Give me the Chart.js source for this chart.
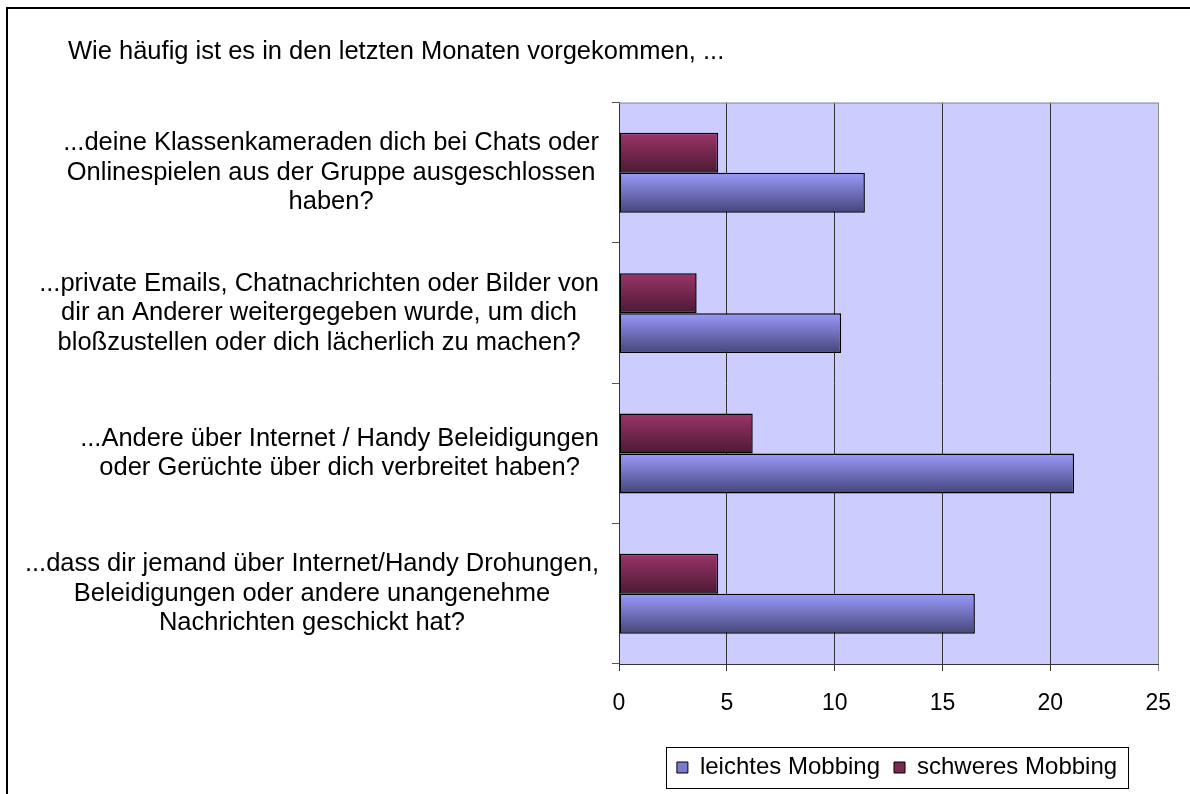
<!DOCTYPE html>
<html>
<head>
<meta charset="utf-8">
<script src="https://cdn.jsdelivr.net/npm/chart.js@4/dist/chart.umd.min.js"></script>
<style>
  html, body { margin: 0; padding: 0; background: #fff; }
</style>
</head>
<body>
<canvas id="chart" width="1190" height="794"></canvas>
<script>
// Daten
const title = "Wie häufig ist es in den letzten Monaten vorgekommen, ...";
const categories = [
  ["...deine Klassenkameraden dich bei Chats oder", "Onlinespielen aus der Gruppe ausgeschlossen", "haben?"],
  ["...private Emails, Chatnachrichten oder Bilder von", "dir an Anderer weitergegeben wurde, um dich", "bloßzustellen oder dich lächerlich zu machen?"],
  ["...Andere über Internet / Handy Beleidigungen", "oder Gerüchte über dich verbreitet haben?"],
  ["...dass dir jemand über Internet/Handy Drohungen,", "Beleidigungen oder andere unangenehme", "Nachrichten geschickt hat?"],
];
const leichtes = [11.4, 10.3, 21.1, 16.5];
const schweres = [4.6, 3.6, 6.2, 4.6];
const xTicks = [0, 5, 10, 15, 20, 25];

const FONT = '"Liberation Sans", Arial, sans-serif';
const CAT_PCT = 0.57;
const LEGEND_BOX = { x: 666, y: 747, w: 462, h: 41 };
const LEGEND_PAD = 14;

Chart.defaults.color = "#000";
Chart.defaults.font.family = FONT;

// vertikaler Verlauf pro Balken, wie im Excel-Diagramm
function barGradient(topColor, bottomColor) {
  return (c) => {
    const chart = c.chart;
    const y = chart.scales.y;
    if (c.type !== "data" || !y || !y.height) return topColor;
    const slot = (y.height / chart.data.labels.length) * CAT_PCT / 2;
    const start = y.getPixelForValue(c.dataIndex) - slot + c.datasetIndex * slot;
    const g = chart.ctx.createLinearGradient(0, start, 0, start + slot);
    g.addColorStop(0, topColor);
    g.addColorStop(1, bottomColor);
    return g;
  };
}

const framePlugin = {
  id: "frame",
  beforeDraw(chart) {
    const { ctx, chartArea: a } = chart;
    ctx.save();
    ctx.fillStyle = "#fff";
    ctx.fillRect(0, 0, chart.width, chart.height);
    ctx.fillStyle = "#ccccff";
    ctx.fillRect(a.left, a.top, a.right - a.left, a.bottom - a.top);
    ctx.strokeStyle = "#000";
    ctx.lineWidth = 2;
    ctx.beginPath();
    ctx.moveTo(7, chart.height);
    ctx.lineTo(7, 8);
    ctx.lineTo(chart.width, 8);
    ctx.stroke();
    ctx.restore();

    // Legende in den Kasten unter der Zeichenfläche setzen
    const lg = chart.legend;
    if (lg) {
      lg.left = LEGEND_BOX.x - 30;
      lg.right = LEGEND_BOX.x + LEGEND_BOX.w + 30;
      lg.width = lg.right - lg.left;
      lg.top = LEGEND_BOX.y + LEGEND_BOX.h / 2 - 12 - LEGEND_PAD;
      lg.bottom = lg.top + lg.height;
    }
  },
  beforeDatasetsDraw(chart) {
    const { ctx, chartArea: a } = chart;
    ctx.save();
    ctx.strokeStyle = "#8c8c8c";
    ctx.lineWidth = 1;
    ctx.beginPath();
    ctx.moveTo(a.left, a.top + 0.5);
    ctx.lineTo(a.right, a.top + 0.5);
    ctx.stroke();
    ctx.restore();
  },
  afterDraw(chart) {
    const { ctx, chartArea: a } = chart;
    const y = chart.scales.y;
    ctx.save();
    ctx.font = "25.5px " + FONT;
    ctx.fillStyle = "#000";
    ctx.textAlign = "center";
    ctx.textBaseline = "middle";
    const lh = 29.5;
    chart.data.labels.forEach((lines, i) => {
      const cy = y.getPixelForValue(i);
      const w = Math.max(...lines.map((l) => ctx.measureText(l).width));
      const cx = a.left - 20 - w / 2;
      lines.forEach((l, j) => {
        ctx.fillText(l, cx, cy + (j - (lines.length - 1) / 2) * lh);
      });
    });
    // Rahmen der Legende
    ctx.strokeStyle = "#000";
    ctx.lineWidth = 1;
    ctx.strokeRect(LEGEND_BOX.x + 0.5, LEGEND_BOX.y + 0.5, LEGEND_BOX.w, LEGEND_BOX.h);
    ctx.restore();
  },
};

new Chart(document.getElementById("chart"), {
  type: "bar",
  data: {
    labels: categories,
    datasets: [
      {
        label: "schweres Mobbing",
        data: schweres,
        backgroundColor: barGradient("#9c3468", "#4a1a33"),
        legendColor: "#7a2a52",
        borderColor: "#000",
        borderWidth: 1.5,
        borderSkipped: false,
      },
      {
        label: "leichtes Mobbing",
        data: leichtes,
        backgroundColor: barGradient("#9a9afc", "#45457a"),
        legendColor: "#7a7ad0",
        borderColor: "#000",
        borderWidth: 1.5,
        borderSkipped: false,
      },
    ],
  },
  options: {
    indexAxis: "y",
    responsive: false,
    animation: false,
    events: [],
    categoryPercentage: CAT_PCT,
    barPercentage: 1,
    layout: { padding: { left: 68, right: 30, top: 0, bottom: 0 } },
    plugins: {
      title: {
        display: true,
        text: title,
        align: "start",
        font: { size: 25.5, weight: "normal" },
        padding: { top: 37, bottom: 35 },
      },
      legend: {
        position: "bottom",
        reverse: true,
        labels: {
          font: { size: 24 },
          boxWidth: 11,
          boxHeight: 11,
          padding: LEGEND_PAD,
          generateLabels: (chart) =>
            chart.data.datasets.map((ds, i) => ({
              text: ds.label,
              fillStyle: ds.legendColor,
              strokeStyle: "#000",
              lineWidth: 1,
              hidden: false,
              datasetIndex: i,
            })),
        },
      },
      tooltip: { enabled: false },
    },
    scales: {
      x: {
        min: 0,
        max: 25,
        afterBuildTicks: (scale) => {
          scale.ticks = xTicks.map((v) => ({ value: v }));
        },
        afterFit: (scale) => {
          const lg = scale.chart.legend;
          scale.height = scale.chart.height - 664 - (lg ? lg.height : 0);
        },
        ticks: { font: { size: 23 }, padding: 19, maxRotation: 0 },
        grid: {
          color: (c) => (c.tick && c.tick.value === 25 ? "#8c8c8c" : "#333"),
          lineWidth: 1,
          tickLength: 7,
        },
        border: { color: "#333", width: 1 },
      },
      y: {
        afterFit: (scale) => {
          scale.width = 619 - 68;
        },
        ticks: { display: false },
        grid: {
          drawOnChartArea: false,
          offset: true,
          tickLength: 7,
          color: "#555",
        },
        border: { color: "#333", width: 1 },
      },
    },
  },
  plugins: [framePlugin],
});
</script>
</body>
</html>
